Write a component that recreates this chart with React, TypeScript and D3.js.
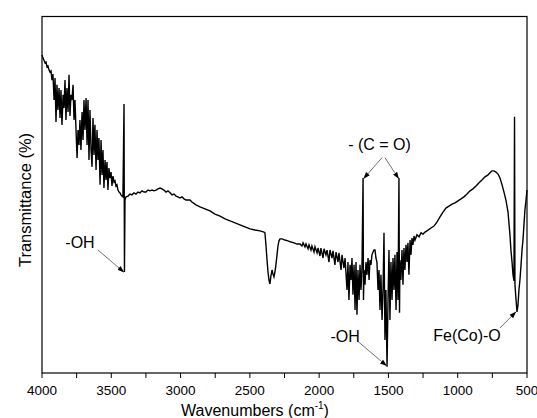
import React from "react";
import * as d3 from "d3";

// FTIR spectrum: [wavenumber (cm^-1), transmittance (%)]
const spectrum: [number, number][] = [
  [4000, 78.3], [3993, 77.5], [3986, 77], [3978, 76.3], [3971, 76.5], [3964, 75.3], [3957, 75.5],
  [3949, 74.5], [3942, 74], [3935, 74.3], [3928, 72], [3921, 73.5], [3913, 67], [3906, 72.5],
  [3899, 61.5], [3892, 70.8], [3885, 64.5], [3877, 70], [3870, 62.5], [3863, 69.5], [3856, 60.8],
  [3848, 68.3], [3841, 65], [3834, 72], [3827, 62], [3820, 70], [3812, 64], [3805, 73.3],
  [3798, 63], [3791, 68.3], [3784, 67], [3776, 70.8], [3769, 62], [3762, 67], [3755, 60],
  [3747, 52.5], [3740, 59.5], [3733, 55.8], [3726, 62], [3719, 54.5], [3711, 64], [3704, 57],
  [3697, 67], [3690, 59.5], [3682, 67.5], [3675, 55.8], [3668, 67], [3661, 52], [3654, 64.5],
  [3646, 54.5], [3639, 50.3], [3632, 62.5], [3625, 53.3], [3618, 60.8], [3610, 49.5], [3603, 59.5],
  [3596, 52], [3589, 57.5], [3581, 45.8], [3574, 57], [3567, 48.3], [3560, 54.5], [3553, 45],
  [3545, 52], [3538, 47], [3531, 51.5], [3524, 44.5], [3517, 50], [3509, 47.5], [3502, 49],
  [3495, 45.5], [3488, 48], [3480, 46.5], [3473, 46.8], [3466, 45.5], [3459, 45.8], [3452, 44.5],
  [3444, 44], [3437, 43.8], [3430, 43.3], [3423, 43], [3416, 42.8], [3408, 66], [3405, 24],
  [3401, 42], [3394, 42.8], [3379, 43], [3365, 43.5], [3351, 43.3], [3336, 43.8], [3322, 43.5],
  [3307, 44], [3293, 43.8], [3278, 44.3], [3264, 44], [3250, 44], [3235, 44.5], [3221, 44.3],
  [3206, 44.5], [3192, 44.3], [3177, 44.5], [3163, 44.8], [3148, 45], [3134, 44.8], [3120, 44.5],
  [3105, 44], [3091, 44.3], [3076, 43.8], [3062, 43.3], [3047, 43.5], [3033, 43], [3019, 42.8],
  [3004, 42.5], [2990, 42.8], [2975, 42.3], [2961, 42], [2946, 42], [2932, 42], [2918, 41.5],
  [2889, 40.8], [2860, 40.3], [2824, 39.8], [2788, 39.3], [2752, 38.5], [2715, 38], [2679, 37.3],
  [2643, 36.8], [2607, 36.3], [2571, 35.8], [2535, 35.3], [2499, 34.8], [2463, 34.5], [2427, 34.3],
  [2398, 34], [2391, 33.8], [2384, 30.8], [2376, 27], [2369, 24], [2362, 22], [2355, 21],
  [2348, 23], [2340, 24.5], [2333, 23.5], [2326, 22.8], [2319, 24], [2312, 25.8], [2304, 28.3],
  [2297, 30.5], [2290, 31.8], [2282, 32.3], [2268, 32.3], [2246, 32], [2225, 31.8], [2203, 31.5],
  [2181, 31.3], [2160, 31], [2138, 31], [2124, 30.5], [2116, 31.3], [2102, 30.3], [2095, 31],
  [2080, 29.8], [2073, 30.8], [2059, 29.5], [2052, 30.5], [2037, 29], [2030, 30.3], [2015, 28.8],
  [2008, 30], [1994, 28], [1987, 30], [1972, 27.5], [1965, 29.8], [1951, 28.3], [1943, 29.5],
  [1929, 26.5], [1922, 29.5], [1907, 27.5], [1900, 29.3], [1886, 25.8], [1878, 29], [1864, 26.5],
  [1857, 28.8], [1842, 24.5], [1835, 28.3], [1821, 25], [1813, 27.5], [1799, 19.5], [1792, 26.5],
  [1785, 17], [1777, 25.8], [1770, 22], [1763, 27.5], [1756, 18.3], [1748, 25.8], [1741, 14.5],
  [1734, 26.5], [1727, 13.3], [1720, 24.5], [1712, 17], [1705, 25.8], [1698, 19.5], [1691, 25],
  [1683, 47.5], [1680, 17], [1676, 24.5], [1669, 20.8], [1662, 26.5], [1655, 23.3], [1647, 27.5],
  [1640, 22], [1633, 27], [1626, 25.8], [1619, 28.3], [1611, 29], [1604, 29.5], [1597, 29.5],
  [1590, 27.5], [1583, 26.5], [1575, 19.5], [1568, 24.5], [1561, 14.5], [1554, 23.3], [1546, 12],
  [1539, 19.5], [1532, 33.8], [1525, 7], [1518, 19.5], [1510, 0.3], [1503, 17], [1496, 29.5],
  [1489, 12], [1482, 26.5], [1474, 17], [1467, 27.5], [1460, 19.5], [1453, 28.3], [1445, 14.5],
  [1438, 29], [1431, 17], [1424, 47.5], [1420, 13.8], [1417, 27], [1410, 22], [1402, 29.5],
  [1395, 20.8], [1388, 30], [1381, 24.5], [1373, 30.8], [1366, 26.5], [1359, 31.3], [1352, 23.3],
  [1344, 32], [1337, 28.3], [1330, 32.5], [1323, 30.8], [1315, 33], [1308, 32], [1294, 33.3],
  [1279, 32.8], [1265, 33.8], [1250, 33.5], [1236, 34], [1214, 34.5], [1193, 35], [1171, 35.5],
  [1150, 36.5], [1128, 37.8], [1106, 39], [1085, 40], [1063, 40.5], [1041, 41], [1020, 41.3],
  [998, 41.8], [976, 42.3], [955, 42.8], [933, 43.5], [911, 44.3], [890, 44.8], [868, 45.5],
  [846, 46.3], [825, 47], [803, 47.8], [781, 48.3], [767, 48.8], [753, 49.3], [738, 49.3],
  [724, 49], [709, 48.5], [695, 47.5], [680, 45.8], [666, 44], [652, 42], [637, 39],
  [623, 33.3], [616, 29.5], [608, 26.5], [601, 23.3], [594, 21.8], [590, 62.8], [587, 20.8],
  [579, 17], [572, 14], [565, 15.8], [558, 19.5], [551, 22], [543, 25.8], [536, 29.5],
  [529, 32], [522, 35.8], [515, 39.5], [507, 42], [500, 44.5],
];

const xMajorTicks = [4000, 3500, 3000, 2500, 2000, 1500, 1000, 500];
const xMinorTicks = [3750, 3250, 2750, 2250, 1750, 1250, 750];
const xDomain: [number, number] = [4000, 500];
const yDomain: [number, number] = [-1.25, 87.9];

// annotations
const annLabels = ["-OH", "- (C = O)", "-OH", "Fe(Co)-O"];
const annTextPos: [number, number][] = [[3726, 31], [1564, 55.5], [1813, 7.5], [933, 7.75]];
const arrowFrom: [number, number][] = [[3596, 29.5], [1546, 52.6], [1525, 52.6], [1722, 6.7], [695, 10]];
const arrowTo: [number, number][] = [[3410, 24], [1678, 47.4], [1427, 47.4], [1515, 0.6], [581, 14]];

const W = 537;
const H = 418;
const margin = { top: 16.5, right: 10, bottom: 45, left: 42 };

export default function App() {
  const x = d3.scaleLinear().domain(xDomain).range([margin.left, W - margin.right]);
  const y = d3.scaleLinear().domain(yDomain).range([H - margin.bottom, margin.top]);
  const line = d3
    .line<[number, number]>()
    .x((d) => x(d[0]))
    .y((d) => y(d[1]));

  const font = "'Liberation Sans', Arial, sans-serif";
  const y0 = H - margin.bottom;

  return (
    <svg
      width={W}
      height={H}
      style={{ position: "absolute", left: 0, top: 0, background: "#fff" }}
      fontFamily={font}
    >
      <defs>
        <marker
          id="ah"
          viewBox="0 0 10 10"
          refX="9"
          refY="5"
          markerWidth="7"
          markerHeight="7"
          orient="auto"
          markerUnits="userSpaceOnUse"
        >
          <path d="M0,1.5 L10,5 L0,8.5 z" fill="#000" />
        </marker>
      </defs>
      <rect x={0} y={0} width={W} height={H} fill="#fff" />
      <path d={line(spectrum) || ""} fill="none" stroke="#000" strokeWidth={1.4} strokeLinejoin="miter" />
      <rect
        x={margin.left}
        y={margin.top}
        width={W - margin.left - margin.right}
        height={H - margin.top - margin.bottom}
        fill="none"
        stroke="#000"
        strokeWidth={1.2}
      />
      {xMajorTicks.map((t) => (
        <g key={"M" + t}>
          <line x1={x(t)} x2={x(t)} y1={y0} y2={y0 + 5} stroke="#000" strokeWidth={1} />
          <text x={x(t)} y={y0 + 22} textAnchor="middle" fontSize={13.5} fill="#000">
            {t}
          </text>
        </g>
      ))}
      {xMinorTicks.map((t) => (
        <line key={"m" + t} x1={x(t)} x2={x(t)} y1={y0} y2={y0 + 5} stroke="#000" strokeWidth={1} />
      ))}
      <text x={255} y={416} textAnchor="middle" fontSize={16} fill="#000">
        Wavenumbers (cm
        <tspan dy={-7} fontSize={10}>
          -1
        </tspan>
        <tspan dy={7}>)</tspan>
      </text>
      <text
        transform={`translate(31,200) rotate(-90)`}
        textAnchor="middle"
        fontSize={16.5}
        fill="#000"
      >
        Transmittance (%)
      </text>
      {annLabels.map((l, i) => (
        <text
          key={"a" + i}
          x={x(annTextPos[i][0])}
          y={y(annTextPos[i][1])}
          textAnchor="middle"
          dominantBaseline="middle"
          fontSize={16}
          fill="#000"
        >
          {l}
        </text>
      ))}
      {arrowFrom.map((f, i) => (
        <line
          key={"ar" + i}
          x1={x(f[0])}
          y1={y(f[1])}
          x2={x(arrowTo[i][0])}
          y2={y(arrowTo[i][1])}
          stroke="#333"
          strokeWidth={0.7}
          markerEnd="url(#ah)"
        />
      ))}
    </svg>
  );
}
